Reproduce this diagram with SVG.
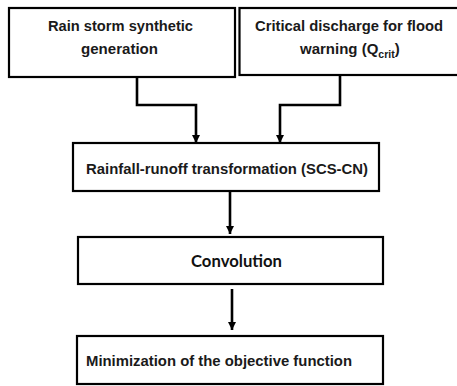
<svg xmlns="http://www.w3.org/2000/svg" width="457" height="386" viewBox="0 0 457 386">
<defs>
<marker id="ah" viewBox="0 0 10 10" refX="10" refY="5" markerWidth="3.2" markerHeight="3.2" markerUnits="strokeWidth" orient="auto">
<path d="M0,0 L10,5 L0,10 z" fill="#000"/>
</marker>
</defs>
<style>
.box{fill:#fff;stroke:#000;stroke-width:2.2}
.t{font-family:"Liberation Sans",Arial,sans-serif;font-weight:bold;font-size:15px;fill:#1a1a1a}
.c{font-family:Lato,"Open Sans",sans-serif;font-weight:bold;font-size:17px;fill:#111}
.ln{fill:none;stroke:#000;stroke-width:2.6;marker-end:url(#ah)}
</style>
<rect width="457" height="386" fill="#fff"/>
<g id="connectors">
<path class="ln" d="M137,77 V105 H196 V143"/>
<path class="ln" d="M340,75 V105 H280 V143"/>
<path class="ln" d="M230,192 V234"/>
<path class="ln" d="M232,289 V330"/>
</g>
<g id="n1">
<rect class="box" x="9" y="8" width="226" height="69"/>
<text class="t" x="48" y="31" textLength="145" lengthAdjust="spacingAndGlyphs">Rain storm synthetic</text>
<text class="t" x="81" y="54" textLength="77" lengthAdjust="spacingAndGlyphs">generation</text>
</g>
<g id="n2">
<rect class="box" x="239.5" y="8" width="225" height="67"/>
<text class="t" x="255" y="31" textLength="188" lengthAdjust="spacingAndGlyphs">Critical discharge for flood</text>
<text class="t" x="300" y="54">warning (Q<tspan font-size="10.5px" dy="4">crit</tspan><tspan dy="-4">)</tspan></text>
</g>
<g id="n3">
<rect class="box" x="73" y="143" width="306" height="48"/>
<text class="t" x="86" y="174" textLength="282" lengthAdjust="spacingAndGlyphs">Rainfall-runoff transformation (SCS-CN)</text>
</g>
<g id="n4">
<rect class="box" x="78" y="237" width="305" height="47"/>
<text class="c" x="191" y="267" textLength="91" lengthAdjust="spacingAndGlyphs">Convolution</text>
</g>
<g id="n5">
<rect class="box" x="77" y="336" width="306" height="48"/>
<text class="t" x="86" y="366" textLength="266" lengthAdjust="spacingAndGlyphs">Minimization of the objective function</text>
</g>
</svg>
